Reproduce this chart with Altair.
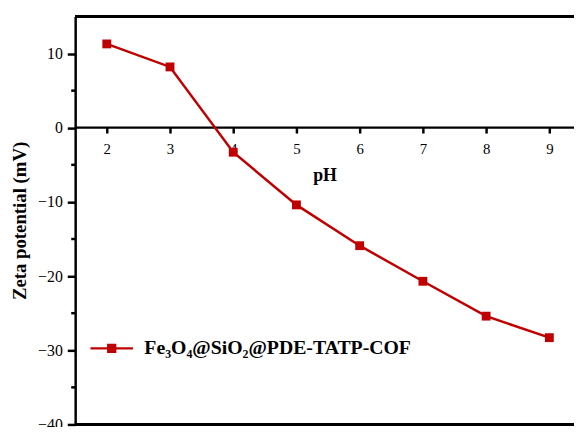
import altair as alt
import pandas as pd

ph = [2, 3, 4, 5, 6, 7, 8, 9]
zeta = [11.3, 8.2, -3.3, -10.4, -15.9, -20.7, -25.4, -28.3]
series = "Fe₃O₄@SiO₂@PDE-TATP-COF"
y_major = [-40, -30, -20, -10, 0, 10]
y_minor = [-35, -25, -15, -5, 5]
x_ticks = [2, 3, 4, 5, 6, 7, 8, 9]

W, H = 505, 413
RED = "#c00000"
FONT = "Liberation Serif"

df = pd.DataFrame({"pH": ph, "zeta": zeta, "s": [series] * len(ph)})
minor_df = pd.DataFrame({"v": y_minor})

xs = alt.Scale(domain=[1.5, 9.39], nice=False, zero=False)
ys = alt.Scale(domain=[-40, 15], nice=False, zero=False)

x_enc = alt.X("pH:Q", scale=xs, axis=alt.Axis(
    values=x_ticks, format="d", offset=-301, tickSize=6, tickWidth=2.5,
    tickColor="black", domainWidth=2.5, domainColor="black", labelFont=FONT,
    labelFontSize=15, labelColor="black", labelPadding=9, title="pH",
    titleFont=FONT, titleFontSize=18, titleFontWeight="bold",
    titleColor="black", titlePadding=10, grid=False))
y_enc = alt.Y("zeta:Q", scale=ys, axis=alt.Axis(
    values=y_major, format="d", tickSize=8, tickWidth=2.5, tickColor="black",
    domainWidth=2.5, domainColor="black", labelFont=FONT, labelFontSize=16,
    labelColor="black", labelPadding=5, title="Zeta potential (mV)",
    titleFont=FONT, titleFontSize=19, titleFontWeight="bold",
    titleColor="black", titlePadding=8, grid=False))

color_scale = alt.Scale(domain=[series], range=[RED])

line = alt.Chart(df).mark_line(strokeWidth=2.5, color=RED).encode(
    x=x_enc, y=y_enc)

points = alt.Chart(df).mark_point(shape="square", filled=True, size=80, opacity=1).encode(
    x="pH:Q", y="zeta:Q",
    color=alt.Color("s:N", scale=color_scale, legend=alt.Legend(
        title=None, orient="none", legendX=14, legendY=313,
        symbolType="M-1,0H1M-0.16,-0.16H0.16V0.16H-0.16Z",
        symbolSize=1849, symbolStrokeWidth=2.5, symbolStrokeColor=RED,
        symbolFillColor=RED, symbolOpacity=1, labelFont=FONT,
        labelFontSize=20, labelFontWeight="bold", labelColor="black",
        labelOffset=10, labelLimit=400, padding=0)))

minor = alt.Chart(minor_df).mark_rule(color="black", strokeWidth=2.5).encode(
    y=alt.Y("v:Q", scale=ys), x=alt.value(-4), x2=alt.value(0))

top = alt.Chart(df).mark_rule(color="black", strokeWidth=2.5).encode(
    y=alt.datum(15, scale=ys), x=alt.value(0), x2=alt.value(W))
bottom = alt.Chart(df).mark_rule(color="black", strokeWidth=2.5).encode(
    y=alt.datum(-40, scale=ys), x=alt.value(0), x2=alt.value(W))

chart = alt.layer(top, bottom, minor, line, points).properties(
    width=W, height=H,
    autosize=alt.AutoSizeParams(type="none"),
    padding={"left": 68, "top": 6, "right": 0, "bottom": 0},
).configure_view(stroke=None)

chart.save("out.html", embed_options={"renderer": "svg", "actions": False})
